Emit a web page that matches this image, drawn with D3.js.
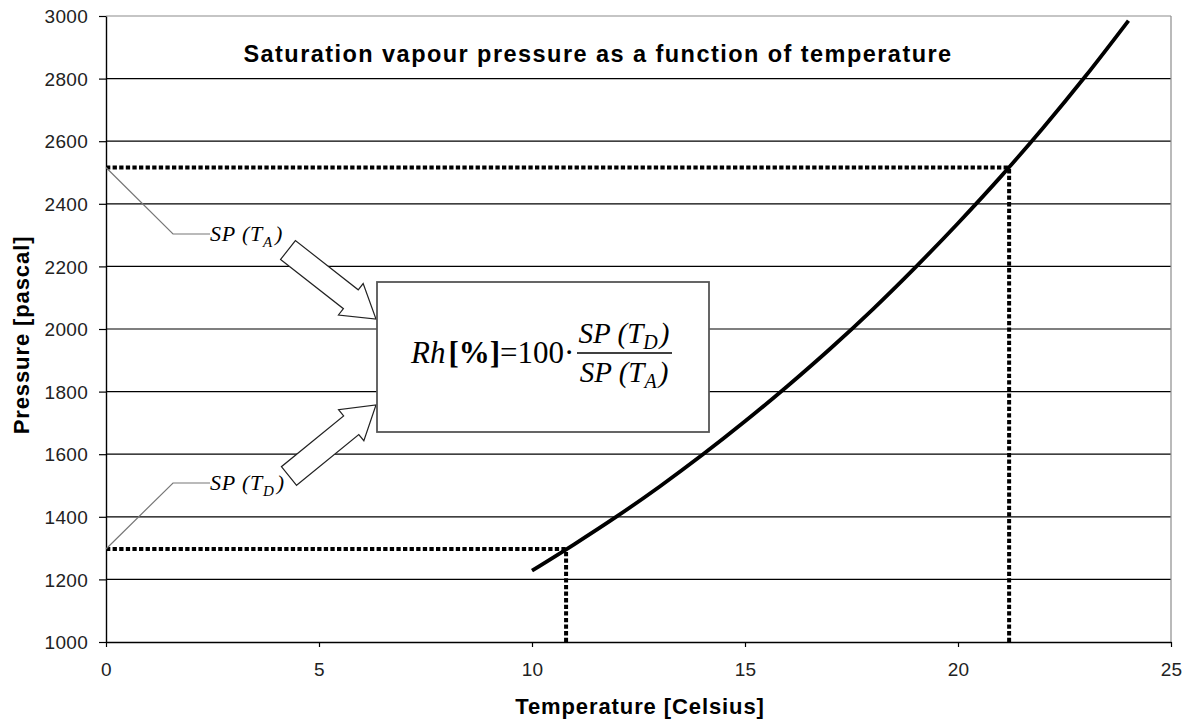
<!DOCTYPE html>
<html>
<head>
<meta charset="utf-8">
<script src="https://cdn.jsdelivr.net/npm/d3@7"></script>
<style>
  html, body { margin: 0; padding: 0; background: #fff; }
  svg { display: block; }
</style>
</head>
<body>
<svg id="chart" width="1188" height="722"></svg>
<script>
// Saturation vapour pressure (Pa) against temperature (°C)
const temperatures = [10, 11, 12, 13, 14, 15, 16, 17, 18, 19, 20, 21, 22, 23, 24];
const pressures = [1228, 1313, 1402, 1497, 1598, 1705, 1818, 1937, 2063, 2197, 2338, 2486, 2643, 2809, 2985];

// Dew point (T_D) and air temperature (T_A) with their saturation pressures
const markerTemps = [10.8, 21.2];
const markerPressures = [1297, 2516];

const xTicks = [0, 5, 10, 15, 20, 25];
const yTicks = [1000, 1200, 1400, 1600, 1800, 2000, 2200, 2400, 2600, 2800, 3000];

const svg = d3.select("#chart");
const plotLeft = 106, plotRight = 1171, plotTop = 16, plotBottom = 642;

const x = d3.scaleLinear().domain([0, 25]).range([plotLeft, plotRight]);
const y = d3.scaleLinear().domain([1000, 3000]).range([plotBottom, plotTop]);

const sans = "'Liberation Sans', Arial, sans-serif";
const serif = "'Liberation Serif', 'Times New Roman', serif";

// Horizontal gridlines
svg.append("g").selectAll("line")
  .data(yTicks.slice(1, -1))
  .join("line")
  .attr("x1", plotLeft).attr("x2", plotRight)
  .attr("y1", d => y(d)).attr("y2", d => y(d))
  .attr("stroke", "#000").attr("stroke-width", 1.2);

// Plot frame: grey top and right edges
svg.append("line").attr("x1", plotLeft).attr("x2", plotRight).attr("y1", plotTop).attr("y2", plotTop)
  .attr("stroke", "#8c8c8c").attr("stroke-width", 1.2);
svg.append("line").attr("x1", plotRight).attr("x2", plotRight).attr("y1", plotTop).attr("y2", plotBottom)
  .attr("stroke", "#8c8c8c").attr("stroke-width", 1.2);

// Axes
const yAxis = svg.append("g")
  .attr("transform", `translate(${plotLeft},0)`)
  .call(d3.axisLeft(y).tickValues(yTicks).tickFormat(d3.format("d"))
    .tickSize(7).tickSizeOuter(0).tickPadding(11));
const xAxis = svg.append("g")
  .attr("transform", `translate(0,${plotBottom})`)
  .call(d3.axisBottom(x).tickValues(xTicks).tickFormat(d3.format("d"))
    .tickSize(5).tickSizeOuter(0).tickPadding(16));

[yAxis, xAxis].forEach(g => {
  g.select(".domain").attr("stroke", "#000").attr("stroke-width", 1.4);
  g.selectAll(".tick line").attr("stroke", "#000").attr("stroke-width", 1.2);
  g.selectAll(".tick text")
    .attr("font-family", sans).attr("font-size", 19).attr("fill", "#222")
    .attr("letter-spacing", 0.3);
});
yAxis.selectAll(".tick text").attr("dy", "0.35em");

// Dotted guide lines to the axes
const dotted = svg.append("g")
  .attr("stroke", "#000").attr("stroke-width", 4)
  .attr("stroke-dasharray", "4.3,2.3").attr("fill", "none");
markerTemps.forEach((t, i) => {
  const p = markerPressures[i];
  dotted.append("line").attr("x1", x(0)).attr("x2", x(t)).attr("y1", y(p)).attr("y2", y(p));
  dotted.append("line").attr("x1", x(t)).attr("x2", x(t)).attr("y1", y(1000)).attr("y2", y(p));
});

// Saturation curve
const line = d3.line()
  .x((d, i) => x(temperatures[i]))
  .y(d => y(d))
  .curve(d3.curveMonotoneX);
svg.append("path")
  .datum(pressures)
  .attr("d", line)
  .attr("fill", "none")
  .attr("stroke", "#000")
  .attr("stroke-width", 3.8);

// Title
svg.append("text")
  .attr("x", 598).attr("y", 62)
  .attr("text-anchor", "middle")
  .attr("font-family", sans).attr("font-weight", "bold").attr("font-size", 23.5)
  .attr("letter-spacing", 1.45)
  .text("Saturation vapour pressure as a function of temperature");

// Axis titles
svg.append("text")
  .attr("x", 640).attr("y", 714)
  .attr("text-anchor", "middle")
  .attr("font-family", sans).attr("font-weight", "bold").attr("font-size", 22)
  .attr("letter-spacing", 0.9)
  .text("Temperature [Celsius]");
svg.append("text")
  .attr("transform", "translate(29,335) rotate(-90)")
  .attr("text-anchor", "middle")
  .attr("font-family", sans).attr("font-weight", "bold").attr("font-size", 22)
  .attr("letter-spacing", 0.9)
  .text("Pressure [pascal]");

// Callout labels pointing at the axis crossings
function spLabel(sub, p, elbowY) {
  const g = svg.append("g");
  g.append("polyline")
    .attr("points", `${x(0)},${y(p)} 173,${elbowY} 210,${elbowY}`)
    .attr("fill", "none").attr("stroke", "#777").attr("stroke-width", 1.2);
  const t = g.append("text")
    .attr("x", 210).attr("y", elbowY + 7)
    .attr("font-family", serif).attr("font-style", "italic").attr("font-size", 22)
    .attr("letter-spacing", 0.8);
  t.append("tspan").text("SP (T");
  t.append("tspan").attr("font-size", 15).attr("dy", 6).text(sub);
  t.append("tspan").attr("dy", -6).attr("dx", 2).text(")");
}
spLabel("A", markerPressures[1], 234);
spLabel("D", markerPressures[0], 483);

// Hollow block arrows towards the formula box
function blockArrow(tail, tip, shaftW, headW, headL) {
  const dx = tip[0] - tail[0], dy = tip[1] - tail[1];
  const len = Math.hypot(dx, dy);
  const ux = dx / len, uy = dy / len, nx = -uy, ny = ux;
  const base = [tip[0] - ux * headL, tip[1] - uy * headL];
  const pt = (p, w) => [p[0] + nx * w, p[1] + ny * w];
  const pts = [
    pt(tail, shaftW / 2), pt(base, shaftW / 2), pt(base, headW / 2), tip,
    pt(base, -headW / 2), pt(base, -shaftW / 2), pt(tail, -shaftW / 2)
  ];
  svg.append("polygon")
    .attr("points", pts.map(p => p.join(",")).join(" "))
    .attr("fill", "#fff").attr("stroke", "#222").attr("stroke-width", 1.2)
    .attr("stroke-linejoin", "miter");
}
blockArrow([288, 250], [376, 319], 24, 40, 32);
blockArrow([289, 476], [376, 405], 24, 40, 32);

// Formula box
svg.append("rect")
  .attr("x", 377).attr("y", 282).attr("width", 332).attr("height", 150)
  .attr("fill", "#fff").attr("stroke", "#555").attr("stroke-width", 1.8);

const f = svg.append("g").attr("font-family", serif).attr("fill", "#000");
const lhs = f.append("text").attr("x", 411).attr("y", 363).attr("font-size", 31);
lhs.append("tspan").attr("font-style", "italic").text("Rh");
lhs.append("tspan").attr("font-weight", "bold").attr("dx", 3).text("[%]");
lhs.append("tspan").text("=100·");

function fracPart(sub, yBase) {
  const t = f.append("text").attr("x", 624).attr("y", yBase)
    .attr("text-anchor", "middle").attr("font-size", 29).attr("font-style", "italic");
  t.append("tspan").text("SP (T");
  t.append("tspan").attr("font-size", 20).attr("dy", 6).text(sub);
  t.append("tspan").attr("dy", -6).attr("dx", 2).text(")");
}
fracPart("D", 343);
fracPart("A", 382);
f.append("line").attr("x1", 577).attr("x2", 672).attr("y1", 353).attr("y2", 353)
  .attr("stroke", "#000").attr("stroke-width", 1.3);
</script>
</body>
</html>
